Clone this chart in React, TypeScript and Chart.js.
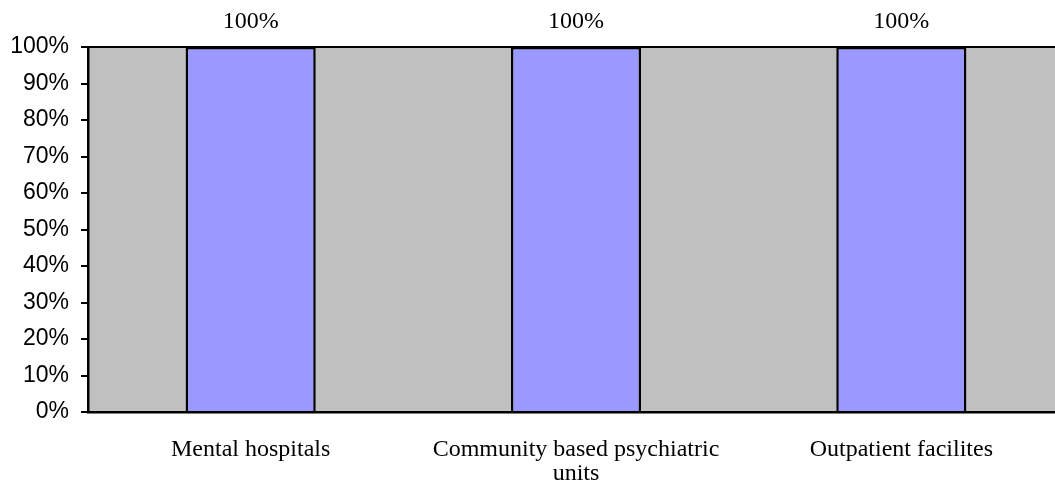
import React, { useEffect, useRef } from "react";
import { Chart, registerables } from "chart.js";

Chart.register(...registerables);

const categories: (string | string[])[] = [
  "Mental hospitals",
  ["Community based psychiatric", "units"],
  "Outpatient facilites",
];
const values: number[] = [100, 100, 100];
const dataLabels: string[] = ["100%", "100%", "100%"];

const plotBg = {
  id: "plotBg",
  beforeDraw(chart: any) {
    const { ctx, chartArea } = chart;
    ctx.save();
    ctx.fillStyle = "#C0C0C0";
    ctx.fillRect(chartArea.left, chartArea.top, chartArea.right - chartArea.left, chartArea.bottom - chartArea.top);
    ctx.restore();
  },
  afterDraw(chart: any) {
    const { ctx, chartArea } = chart;
    ctx.save();
    ctx.strokeStyle = "#000000";
    ctx.lineWidth = 2;
    ctx.beginPath();
    ctx.moveTo(chartArea.left, chartArea.top);
    ctx.lineTo(chartArea.right, chartArea.top);
    ctx.lineTo(chartArea.right, chartArea.bottom);
    ctx.stroke();
    ctx.restore();
  },
};

const barLabels = {
  id: "barLabels",
  afterDatasetsDraw(chart: any) {
    const { ctx } = chart;
    const meta = chart.getDatasetMeta(0);
    ctx.save();
    ctx.font = '24px "Liberation Serif"';
    ctx.fillStyle = "#000";
    ctx.textAlign = "center";
    ctx.textBaseline = "middle";
    meta.data.forEach((el: any, i: number) => {
      ctx.fillText(dataLabels[i], el.x, el.y - 25);
    });
    ctx.restore();
  },
};

export default function App() {
  const ref = useRef<HTMLCanvasElement>(null);
  useEffect(() => {
    if (!ref.current) return;
    const chart = new Chart(ref.current, {
      type: "bar",
      data: {
        labels: categories,
        datasets: [
          {
            data: values,
            backgroundColor: "#9999FF",
            borderColor: "#000000",
            borderWidth: 2.5,
            categoryPercentage: 1,
            barPercentage: 0.4,
          },
        ],
      },
      options: {
        animation: false,
        responsive: false,
        maintainAspectRatio: false,
        layout: { padding: { top: 47, right: 2, left: 0, bottom: 0 } },
        plugins: { legend: { display: false }, tooltip: { enabled: false } },
        scales: {
          x: {
            grid: { display: false, drawTicks: false },
            border: { display: true, color: "#000", width: 2.5 },
            ticks: {
              color: "#000",
              padding: 26,
              maxRotation: 0,
              autoSkip: false,
              font: { family: "Liberation Serif", size: 24, lineHeight: 1.0 },
            },
            afterFit(scale: any) {
              scale.height = 78;
            },
          },
          y: {
            min: 0,
            max: 100,
            ticks: {
              stepSize: 10,
              color: "#000",
              padding: 12,
              font: { family: "Liberation Sans", size: 23 },
              callback: (v: any) => v + "%",
            },
            grid: { drawOnChartArea: false, tickLength: 7, color: "#000", lineWidth: 2 },
            border: { display: true, color: "#000", width: 2.5 },
            afterFit(scale: any) {
              scale.width = 88;
            },
          },
        },
      },
      plugins: [plotBg, barLabels],
    });
    return () => chart.destroy();
  }, []);
  return (
    <div style={{ position: "fixed", left: 0, top: 0, width: 1055, height: 490, overflow: "hidden", background: "#fff" }}>
      <canvas ref={ref} width={1066} height={490} style={{ width: 1066, height: 490, display: "block" }} />
    </div>
  );
}
